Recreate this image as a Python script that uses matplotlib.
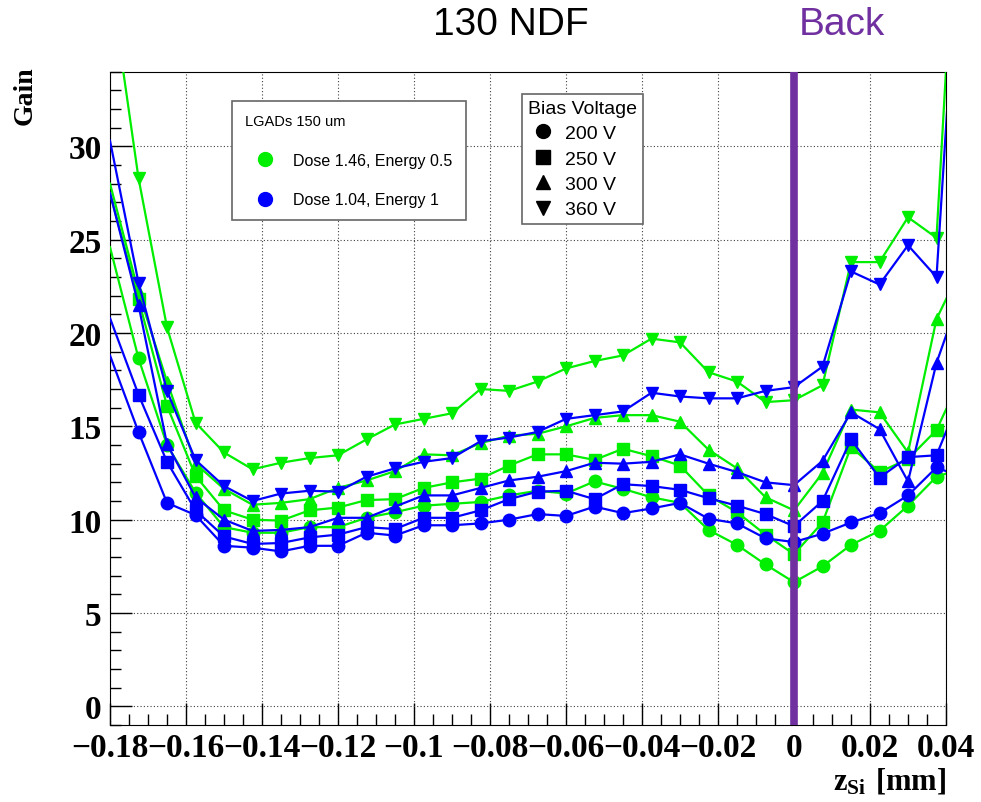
import matplotlib
matplotlib.use('Agg')
import matplotlib.pyplot as plt
from matplotlib.lines import Line2D
from matplotlib.ticker import MultipleLocator, FuncFormatter

# z positions [mm]; first and last points lie just outside the frame
z = [-0.18, -0.1725, -0.165, -0.1575, -0.15, -0.1425, -0.135, -0.1275, -0.12, -0.1125,
     -0.105, -0.0975, -0.09, -0.0825, -0.075, -0.0675, -0.06, -0.0525, -0.045, -0.0375,
     -0.03, -0.0225, -0.015, -0.0075, 0.0, 0.0075, 0.015, 0.0225, 0.03, 0.0375, 0.045]

# Dose 1.46, Energy 0.5 (green)
g200 = [24.6, 18.65, 14.0, 11.45, 9.6, 9.3, 9.3, 9.6, 9.6, 10.1, 10.4, 10.75, 10.85, 10.95, 11.3,
        11.55, 11.4, 12.05, 11.65, 11.2, 10.9, 9.45, 8.65, 7.6, 6.65, 7.5, 8.65, 9.4, 10.75, 12.3, 12.8]
g250 = [27.5, 21.8, 16.1, 12.35, 10.5, 10.0, 9.95, 10.5, 10.65, 11.05, 11.1, 11.7, 12.0, 12.2, 12.9,
        13.5, 13.5, 13.2, 13.8, 13.4, 12.9, 11.3, 10.4, 9.2, 8.15, 9.85, 13.9, 12.55, 13.25, 14.8, 18.1]
g300 = [28.0, 22.2, 17.4, 13.0, 11.65, 10.8, 10.9, 11.1, 11.7, 12.1, 12.6, 13.5, 13.45, 14.1, 14.5,
        14.6, 15.0, 15.45, 15.6, 15.6, 15.25, 13.75, 12.75, 11.2, 10.5, 12.5, 15.9, 15.75, 13.6, 20.75, 23.9]
g360 = [39.0, 28.3, 20.3, 15.2, 13.6, 12.7, 13.05, 13.3, 13.45, 14.3, 15.1, 15.4, 15.7, 17.0, 16.9,
        17.4, 18.1, 18.5, 18.8, 19.7, 19.5, 17.9, 17.4, 16.3, 16.4, 17.2, 23.8, 23.8, 26.2, 25.1, 52.0]

# Dose 1.04, Energy 1 (blue)
b200 = [18.8, 14.7, 10.9, 10.25, 8.6, 8.5, 8.3, 8.6, 8.6, 9.3, 9.15, 9.7, 9.7, 9.8, 10.0,
        10.3, 10.2, 10.7, 10.35, 10.6, 10.9, 10.05, 9.8, 9.0, 8.8, 9.25, 9.85, 10.35, 11.3, 12.8, 12.2]
b250 = [20.8, 16.7, 13.1, 10.5, 9.1, 8.7, 8.75, 9.05, 9.2, 9.6, 9.5, 10.1, 10.1, 10.5, 11.1,
        11.5, 11.55, 11.1, 11.9, 11.8, 11.6, 11.15, 10.75, 10.3, 9.65, 11.0, 14.3, 12.25, 13.35, 13.45, 17.2]
b300 = [27.5, 21.5, 14.05, 11.2, 10.0, 9.4, 9.45, 9.6, 10.1, 10.1, 10.7, 11.3, 11.3, 11.7, 12.1,
        12.3, 12.6, 13.05, 13.0, 13.1, 13.5, 13.0, 12.55, 12.0, 11.85, 13.15, 15.75, 14.85, 12.05, 18.4, 22.75]
b360 = [30.3, 22.7, 16.9, 13.2, 11.8, 11.0, 11.4, 11.55, 11.5, 12.3, 12.75, 13.1, 13.3, 14.2, 14.4,
        14.7, 15.4, 15.6, 15.8, 16.8, 16.6, 16.5, 16.5, 16.9, 17.1, 18.2, 23.3, 22.6, 24.7, 23.0, 47.0]

markers = ['o', 's', '^', 'v']
voltages = ['200 V', '250 V', '300 V', '360 V']
green = '#00ee00'
blue = '#0000ff'
purple = '#7030a0'

plt.rcParams['mathtext.fontset'] = 'custom'
plt.rcParams['mathtext.bf'] = 'Liberation Serif:bold'
plt.rcParams['mathtext.rm'] = 'Liberation Serif:bold'

W, H = 981, 803
fig = plt.figure(figsize=(W / 100, H / 100), dpi=100)
ax = fig.add_axes([110 / W, 1 - 726 / H, 836 / W, (726 - 72.7) / H])

for m, ys in zip(markers, [g200, g250, g300, g360]):
    ax.plot(z, ys, color=green, lw=1.6, marker=m, ms=9, markevery=slice(1, -1), zorder=3)
for m, ys in zip(markers, [b200, b250, b300, b360]):
    ax.plot(z, ys, color=blue, lw=1.6, marker=m, ms=9, markevery=slice(1, -1), zorder=3)

ax.axvline(0, color=purple, lw=5.5, zorder=5)

ax.set_xlim(-0.18, 0.04)
ax.set_ylim(-1, 34)
ax.xaxis.set_major_locator(MultipleLocator(0.02))
ax.xaxis.set_minor_locator(MultipleLocator(0.005))
ax.yaxis.set_major_locator(MultipleLocator(5))
ax.yaxis.set_minor_locator(MultipleLocator(1))
ax.xaxis.set_major_formatter(FuncFormatter(lambda v, p: ('%g' % round(v, 3)).replace('-', '\u2212')))
ax.yaxis.set_major_formatter(FuncFormatter(lambda v, p: '%g' % v))
ax.tick_params(which='both', direction='in', top=False, right=False, width=1)
ax.tick_params(which='major', length=16)
ax.tick_params(which='minor', length=8)
ax.tick_params(axis='y', pad=6)
ax.tick_params(axis='x', pad=5)
for lab in ax.get_xticklabels() + ax.get_yticklabels():
    lab.set_fontfamily('Liberation Serif')
    lab.set_fontweight('bold')
    lab.set_fontsize(24)
ax.grid(True, which='major', color='0.25', linestyle=(0, (1, 2)), lw=0.8)
ax.set_axisbelow(True)

fig.text(25 / W, 1 - 96 / H, 'Gain', rotation=90, ha='center', va='center',
         fontfamily='Liberation Serif', fontweight='bold', fontsize=20)
fig.text(946 / W, 1 - 781 / H, r'$\mathbf{z_{Si}\ [mm]}$', ha='right', va='center', fontsize=22)
fig.text(511 / W, 1 - 25 / H, '130 NDF', ha='center', va='center', fontfamily='Liberation Sans', fontsize=28)
fig.text(842 / W, 1 - 25 / H, 'Back', ha='center', va='center', fontfamily='Liberation Sans',
         fontsize=28, color=purple)

h1 = [Line2D([], [], color=c, marker='o', ls='none', ms=10) for c in [green, blue]]
leg1 = ax.legend(h1, ['Dose 1.46, Energy 0.5', 'Dose 1.04, Energy 1'], title='LGADs 150 um',
                 loc='upper left', bbox_to_anchor=(232 / W, 1 - 102 / H), bbox_transform=fig.transFigure,
                 prop={'family': 'Liberation Sans', 'size': 11.5},
                 title_fontproperties={'family': 'Liberation Sans', 'size': 10.5},
                 alignment='left', fancybox=False, edgecolor='0.4', framealpha=1,
                 borderpad=0.8, labelspacing=1.55, handlelength=2.5, handletextpad=0.55, borderaxespad=0)
leg1.get_frame().set_linewidth(1.2)
ax.add_artist(leg1)

h2 = [Line2D([], [], color='black', marker=m, ls='none', ms=10) for m in markers]
leg2 = ax.legend(h2, voltages, title='Bias Voltage',
                 loc='upper left', bbox_to_anchor=(522 / W, 1 - 95 / H), bbox_transform=fig.transFigure,
                 prop={'family': 'Liberation Sans', 'size': 14},
                 title_fontproperties={'family': 'Liberation Sans', 'size': 14},
                 alignment='left', fancybox=False, edgecolor='0.4', framealpha=1,
                 borderpad=0.3, labelspacing=0.4, handlelength=1.6, handletextpad=0.3, borderaxespad=0)
leg2.get_frame().set_linewidth(1.2)

fig.savefig('out.png', dpi=100)
